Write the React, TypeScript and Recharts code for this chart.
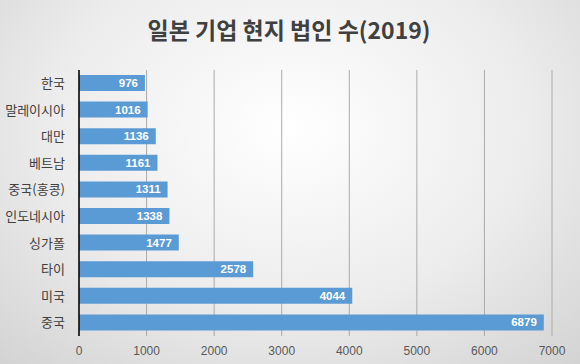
import React from "react";
import { BarChart, Bar, XAxis, YAxis, CartesianGrid, LabelList } from "recharts";

const countries = ["한국", "말레이시아", "대만", "베트남", "중국(홍콩)", "인도네시아", "싱가폴", "타이", "미국", "중국"];
const counts = [976, 1016, 1136, 1161, 1311, 1338, 1477, 2578, 4044, 6879];
const xTicks = [0, 1000, 2000, 3000, 4000, 5000, 6000, 7000];
const title = "일본 기업 현지 법인 수(2019)";

const data = countries.map((c, i) => ({ name: c, value: counts[i] }));

export default function App() {
  return (
    <div
      style={{
        position: "absolute",
        left: 0,
        top: 0,
        width: 580,
        height: 364,
        background: "radial-gradient(ellipse 75% 90% at 50% 35%, #ffffff 0%, #ececec 55%, #d2d2d2 100%)",
        fontFamily: "'Noto Sans CJK KR', 'Noto Sans', sans-serif",
      }}
    >
      <div
        style={{
          position: "absolute",
          left: 0,
          top: 13,
          width: 578,
          textAlign: "center",
          fontSize: 23,
          fontWeight: 700,
          color: "#404040",
          lineHeight: "32px",
        }}
      >
        {title}
      </div>
      <BarChart
        width={580}
        height={364}
        data={data}
        layout="vertical"
        margin={{ top: 70, right: 28, bottom: 0, left: 0 }}
        barCategoryGap={5}
      >
        <CartesianGrid horizontal={false} vertical={true} stroke="#aaaaaa" />
        <XAxis
          type="number"
          domain={[0, 7000]}
          ticks={xTicks}
          axisLine={false}
          tickLine={false}
          height={28}
          tick={{ fill: "#595959", fontSize: 12, fontFamily: "'Liberation Sans', sans-serif" }}
          tickMargin={4}
        />
        <YAxis
          type="category"
          dataKey="name"
          width={79}
          axisLine={{ stroke: "#000000", strokeWidth: 1.5 }}
          tickLine={false}
          tickMargin={8}
          tick={{ fill: "#404040", fontSize: 13, fontFamily: "'Noto Sans CJK KR', sans-serif" }}
          interval={0}
        />
        <Bar dataKey="value" fill="#5b9bd5" barSize={16} isAnimationActive={false}>
          <LabelList
            dataKey="value"
            position="insideRight"
            offset={7}
            fill="#ffffff"
            style={{ fontWeight: 700, fontSize: 11.5, fontFamily: "'Liberation Sans', sans-serif" }}
          />
        </Bar>
      </BarChart>
    </div>
  );
}
